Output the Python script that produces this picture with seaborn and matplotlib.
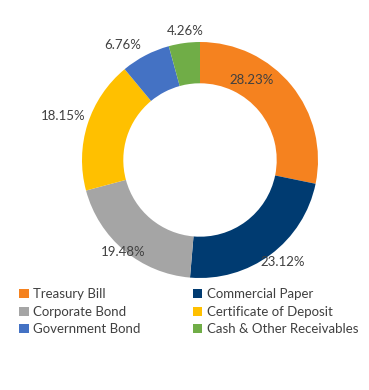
import matplotlib
matplotlib.use("Agg")
import matplotlib.pyplot as plt
import seaborn as sns
from matplotlib.patches import Patch

# Datos de la cartera
categories = ["Treasury Bill", "Commercial Paper", "Corporate Bond",
              "Certificate of Deposit", "Government Bond", "Cash & Other Receivables"]
shares = [28.23, 23.12, 19.48, 18.15, 6.76, 4.26]
labels = ["28.23%", "23.12%", "19.48%", "18.15%", "6.76%", "4.26%"]

colors = ["#F5821F", "#003B71", "#A5A5A5", "#FFC000", "#4472C4", "#70AD47"]
# posiciones de etiquetas en pixeles (x, y) medidas en la imagen
label_px = [(252, 80), (283, 262), (123, 252), (63, 116), (123, 45), (185, 31)]

sns.set_theme(style="white")
plt.rcParams['font.family'] = ['Lato', 'DejaVu Sans']

W, H = 369, 390
fig = plt.figure(figsize=(W / 100, H / 100), dpi=100)
cx, cy, r = 200, 160, 118
ax = fig.add_axes([(cx - r) / W, (H - cy - r) / H, 2 * r / W, 2 * r / H])

ax.pie(shares, colors=colors, startangle=90, counterclock=False,
       wedgeprops=dict(width=0.35, linewidth=0))
ax.set_xlim(-1, 1)
ax.set_ylim(-1, 1)
ax.set_aspect('equal')
ax.axis('off')

for lab, (px, py) in zip(labels, label_px):
    ax.text((px - cx) / r, (cy - py) / r, lab, ha='center', va='center',
            fontsize=9.5, color='#404040')

# leyenda en orden por filas (matplotlib llena por columnas)
order = [0, 2, 4, 1, 3, 5]
handles = [Patch(facecolor=colors[i], edgecolor='none') for i in order]
fig.legend(handles, [categories[i] for i in order], ncol=2, loc='upper left',
           bbox_to_anchor=(14 / W, 1 - 283 / H), frameon=False,
           fontsize=9.5, labelcolor='#404040', handlelength=0.72,
           handleheight=0.72, handletextpad=0.35, columnspacing=3.95,
           labelspacing=0.42, borderaxespad=0)

fig.savefig('out.png', dpi=100)
